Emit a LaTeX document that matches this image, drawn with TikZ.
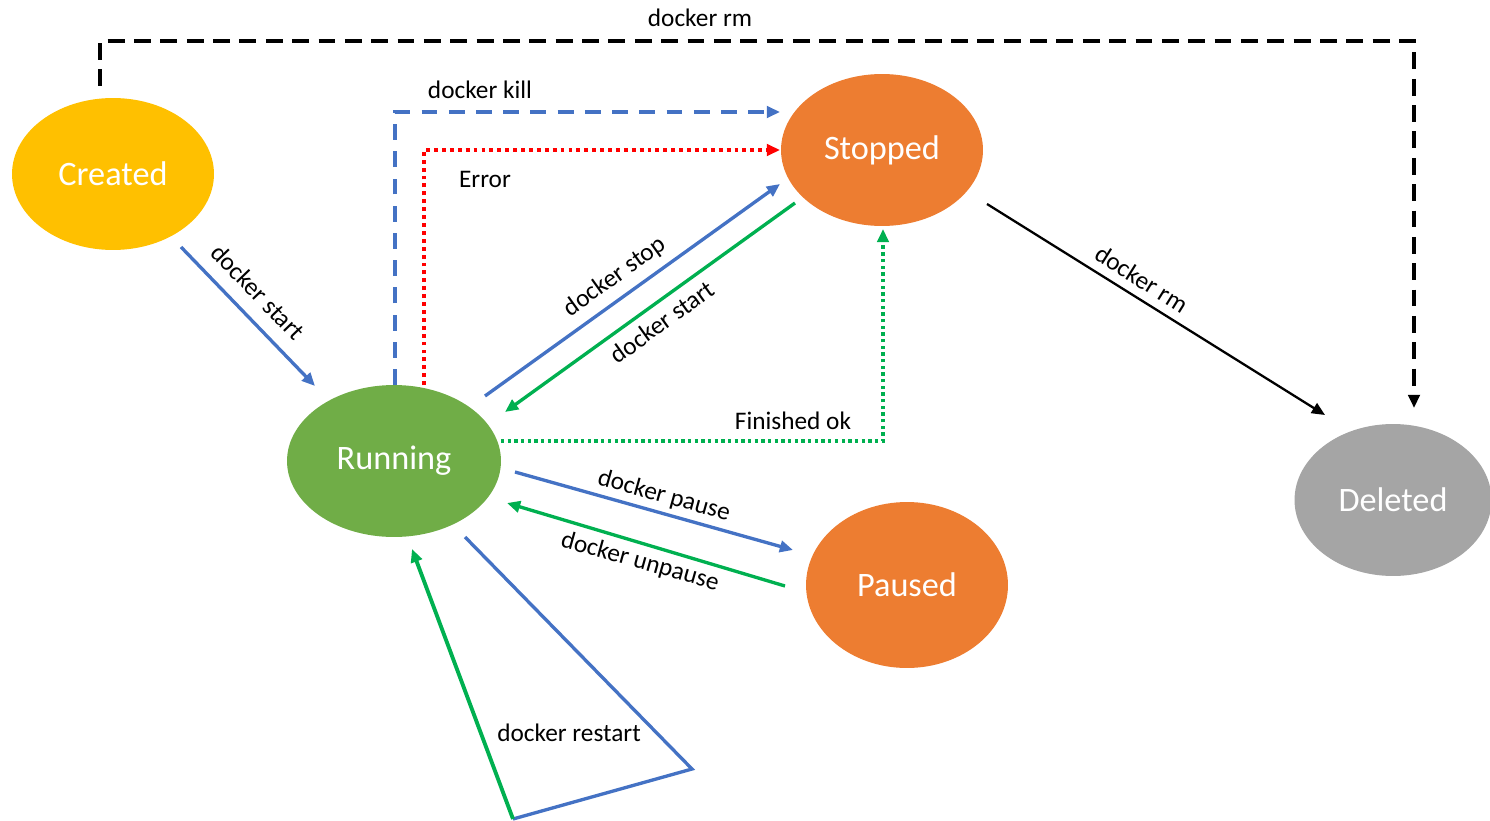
\documentclass[tikz,border=0pt]{standalone}
\usepackage{fontspec}
\setmainfont{Carlito}
\usetikzlibrary{shapes.geometric,arrows.meta,calc}
\definecolor{cCreated}{HTML}{FFC000}
\definecolor{cRun}{HTML}{70AD47}
\definecolor{cStop}{HTML}{ED7D31}
\definecolor{cDel}{HTML}{A5A5A5}
\definecolor{cBlue}{HTML}{4472C4}
\definecolor{cGreen}{HTML}{00B050}
\definecolor{cRed}{HTML}{FF0000}
\tikzset{
  state/.style={ellipse, inner sep=0pt, text=white, font=\fontsize{19.5}{22}\selectfont},
  lbl/.style={font=\fontsize{14.4}{17}\selectfont, text=black, inner sep=1pt},
  arr/.style={-{Triangle[length=7.5pt,width=6.5pt]}, line width=1.9pt},
  bluearr/.style={arr, draw=cBlue},
  greenarr/.style={arr, draw=cGreen},
  blackarr/.style={arr, draw=black, line width=1.3pt},
}
\begin{document}
\begin{tikzpicture}[x=0.02cm, y=-0.02cm]
\useasboundingbox (0,0) rectangle (1490,821);
\node[state, fill=cCreated, minimum width=4.04cm, minimum height=3.04cm] (cr) at (113,174) {Created};
\node[state, fill=cRun, minimum width=4.28cm, minimum height=3.04cm] (run) at (394,461) {Running};
\node[state, fill=cStop, minimum width=4.04cm, minimum height=3.04cm] (stop) at (882,150) {Stopped};
\node[state, fill=cStop, minimum width=4.04cm, minimum height=3.32cm] (pau) at (907,585) {Paused};
\node[state, fill=cDel, minimum width=3.94cm, minimum height=3.04cm] (del) at (1393,500) {Deleted};

% docker rm (dashed, from Created to Deleted)
\draw[arr, draw=black, line width=2.2pt, dash pattern=on 9.6pt off 5.4pt]
  ($(cr)+(-13,-88)$) -- ++(0,-45) -| ($(del)+(21,-92)$);
\node[lbl] (lrm1) at (700,18) {docker rm};

% docker kill
\draw[bluearr, line width=2.2pt, dash pattern=on 9pt off 6.5pt]
  ($(run)+(1,-76)$) |- ($(stop)+(-102,-38)$);
\node[lbl] (lkill) at (480,90) {docker kill};

% Error
\draw[arr, draw=cRed, line width=2.4pt, dash pattern=on 2.2pt off 2.3pt]
  ($(run)+(30,-76)$) |- ($(stop)+(-102,0)$);
\node[lbl] (lerr) at (485,179) {Error};

% docker stop / docker start
\draw[bluearr] ($(run)+(91,-65)$) -- ($(stop)+(-102,34)$);
\node[lbl, rotate=35.7] (lstop) at (615,277) {docker stop};
\draw[greenarr] ($(stop)+(-87,53)$) -- ($(run)+(111,-49)$);
\node[lbl, rotate=35.7] (lstart2) at (662,322) {docker start};

% Finished ok
\draw[arr, draw=cGreen, line width=1.9pt, dash pattern=on 1.9pt off 1.9pt]
  ($(run)+(107,-20)$) -| ($(stop)+(1,79)$);
\node[lbl] (lfin) at (793,421) {Finished ok};

% Created -> Running
\draw[bluearr] ($(cr)+(68,73)$) -- ($(run)+(-79,-75)$);
\node[lbl, rotate=-46] (lstart1) at (258,292) {docker start};

% pause / unpause
\draw[bluearr] ($(run)+(121,11)$) -- ($(pau)+(-114,-35)$);
\node[lbl, rotate=-15.7] (lpause) at (664,496) {docker pause};
\draw[greenarr] ($(pau)+(-122,1)$) -- ($(run)+(113,42)$);
\node[lbl, rotate=-15.7] (lunpause) at (640,562) {docker unpause};

% docker rm (Stopped -> Deleted)
\draw[blackarr] ($(stop)+(105,54)$) -- ($(del)+(-68,-85)$);
\node[lbl, rotate=-32] (lrm2) at (1142,279) {docker rm};

% docker restart
\coordinate (rsA) at (692,769);
\coordinate (rsB) at (513,819);
\draw[cBlue, line width=1.9pt, line join=miter] ($(run)+(71,76)$) -- (rsA) -- (rsB);
\draw[greenarr, line width=2.2pt] (rsB) -- ($(run)+(18,88)$);
\node[lbl] (lrestart) at (569,733) {docker restart};
\end{tikzpicture}
\end{document}
